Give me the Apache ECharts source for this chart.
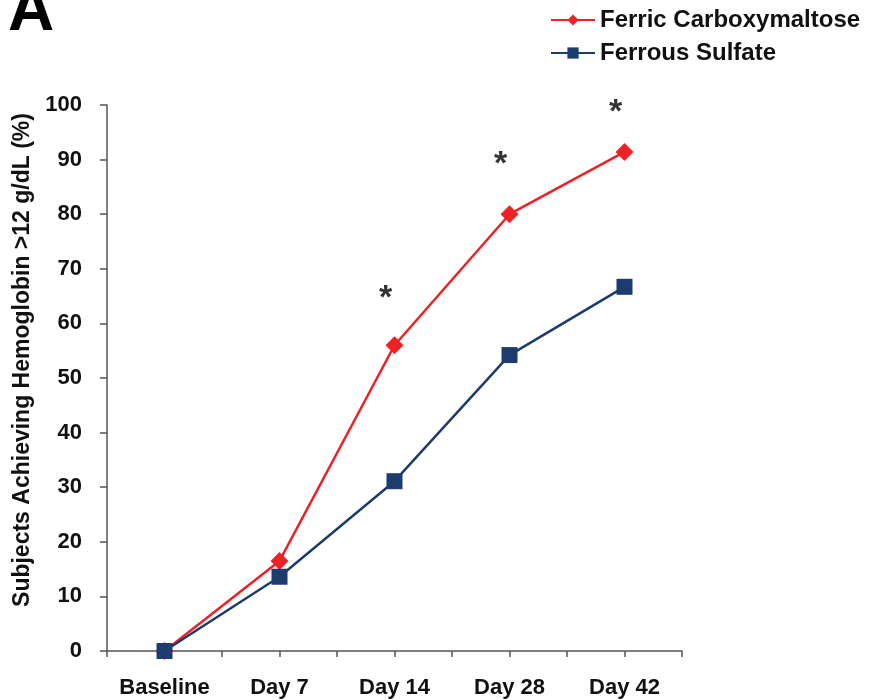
<!DOCTYPE html>
<html>
<head>
<meta charset="utf-8">
<script src="https://cdn.jsdelivr.net/npm/echarts@6/dist/echarts.min.js"></script>
<style>
  html, body { margin: 0; padding: 0; background: #fff; }
  #chart { width: 875px; height: 700px; }
</style>
</head>
<body>
<div id="chart"></div>
<script>
// Study visits along the x axis
const categories = ['Baseline', 'Day 7', 'Day 14', 'Day 28', 'Day 42'];
// Percent of subjects reaching hemoglobin > 12 g/dL
const ferricCarboxymaltose = [0, 16.5, 56, 80, 91.4];
const ferrousSulfate = [0, 13.6, 31.1, 54.2, 66.7];
// Significance markers: [visit index, height]
const significance = [[2, 66], [3, 90.5], [4, 100]];
const yTicks = [0, 10, 20, 30, 40, 50, 60, 70, 80, 90, 100];

const RED = '#ec2227';
const NAVY = '#1c3c6e';
const FONT = '"Liberation Sans", Arial, sans-serif';

const chart = echarts.init(document.getElementById('chart'));

const toPoints = arr => arr.map((v, i) => [i, v]);

chart.setOption({
  animation: false,
  textStyle: { fontFamily: FONT },
  graphic: [{
    type: 'text',
    left: 8,
    top: -20,
    style: { text: 'A', font: 'bold 64px ' + FONT, fill: '#000' }
  }],
  legend: {
    orient: 'vertical',
    left: 545,
    top: 3,
    itemWidth: 44,
    itemHeight: 14,
    itemGap: 9,
    textStyle: { fontSize: 24, fontWeight: 'bold', color: '#111', fontFamily: FONT },
    data: ['Ferric Carboxymaltose', 'Ferrous Sulfate']
  },
  grid: { left: 107, right: 193, top: 105, bottom: 49, containLabel: false, outerBoundsMode: 'none' },
  xAxis: {
    type: 'value',
    min: -0.5,
    max: 4.5,
    interval: 0.5,
    splitLine: { show: false },
    axisLine: { onZero: false, lineStyle: { color: '#555', width: 1.5 } },
    axisTick: { show: true, length: 6, lineStyle: { color: '#555', width: 1.5 } },
    axisLabel: {
      margin: 26,
      fontSize: 22,
      fontWeight: 'bold',
      color: '#111',
      showMinLabel: true,
      showMaxLabel: true,
      formatter: v => Number.isInteger(v) && categories[v] !== undefined ? categories[v] : ''
    }
  },
  yAxis: {
    type: 'value',
    min: 0,
    max: 100,
    interval: 10,
    name: 'Subjects Achieving Hemoglobin >12 g/dL (%)',
    nameLocation: 'middle',
    nameGap: 73,
    nameTextStyle: { fontSize: 23, fontWeight: 'bold', color: '#111', padding: [0, 0, 0, 36] },
    splitLine: { show: false },
    axisLine: { show: true, onZero: false, lineStyle: { color: '#555', width: 1.5 } },
    axisTick: { show: true, length: 7, lineStyle: { color: '#555', width: 1.5 } },
    axisLabel: {
      margin: 25,
      fontSize: 22,
      fontWeight: 'bold',
      color: '#111',
      formatter: v => yTicks.includes(v) ? String(v) : ''
    }
  },
  series: [
    {
      name: 'Ferric Carboxymaltose',
      type: 'line',
      data: toPoints(ferricCarboxymaltose),
      symbol: 'diamond',
      symbolSize: 18,
      color: RED,
      lineStyle: { color: RED, width: 2.5 },
      itemStyle: { color: RED },
      z: 3
    },
    {
      name: 'Ferrous Sulfate',
      type: 'line',
      data: toPoints(ferrousSulfate),
      symbol: 'rect',
      symbolSize: 16,
      color: NAVY,
      lineStyle: { color: NAVY, width: 2.5 },
      itemStyle: { color: NAVY },
      z: 4
    },
    {
      name: 'significance',
      type: 'scatter',
      data: significance,
      symbol: 'circle',
      symbolSize: 2,
      itemStyle: { color: 'rgba(0,0,0,0)' },
      silent: true,
      label: {
        show: true,
        formatter: '*',
        position: 'inside',
        offset: [-9, 8],
        fontSize: 34,
        fontWeight: 'bold',
        color: '#000',
        fontFamily: FONT
      }
    }
  ]
});
</script>
</body>
</html>
